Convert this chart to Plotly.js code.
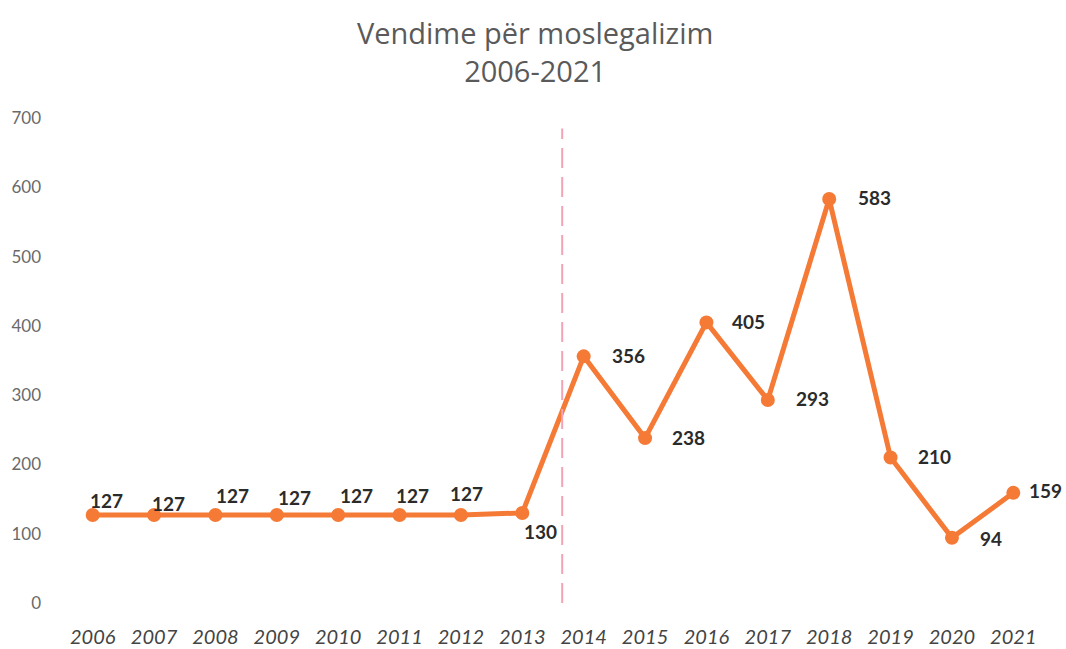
<!DOCTYPE html>
<html>
<head>
<meta charset="utf-8">
<script src="https://cdn.plot.ly/plotly-3.0.1.min.js"></script>
<style>html,body{margin:0;padding:0;background:#fff;}#chart{width:1066px;height:649px;}</style>
</head>
<body>
<div id="chart"></div>
<script>
const years = [2006, 2007, 2008, 2009, 2010, 2011, 2012, 2013, 2014, 2015, 2016, 2017, 2018, 2019, 2020, 2021];
const values = [127, 127, 127, 127, 127, 127, 127, 130, 356, 238, 405, 293, 583, 210, 94, 159];
const yTicks = [0, 100, 200, 300, 400, 500, 600, 700];

// label offsets in pixels (style only)
const labelDx = [14, 14, 17, 18, 18, 13, 6, 18, 45, 43, 42, 45, 45, 44, 39, 32];
const labelDy = [15, 12, 20, 18, 20, 20, 22, -19, 1, 1, 1, 1, 2, 1, -1, 2];
const dividerX = 2013.65;

const lineColor = '#F47A36';

const trace = {
  x: years,
  y: values,
  type: 'scatter',
  mode: 'lines+markers',
  line: {color: lineColor, width: 5},
  marker: {color: lineColor, size: 14},
  cliponaxis: false,
  hoverinfo: 'x+y'
};

const labelFont = {family: 'Lato, "Open Sans", sans-serif', size: 19, color: '#2b2b2b', weight: 'bold'};
const annotations = years.map((yr, i) => ({
  x: yr, y: values[i], xref: 'x', yref: 'y',
  text: String(values[i]),
  showarrow: false,
  xanchor: 'center', yanchor: 'middle',
  xshift: labelDx[i], yshift: labelDy[i],
  font: labelFont
}));

const layout = {
  width: 1066,
  height: 649,
  margin: {l: 62, r: 22, t: 118, b: 46},
  paper_bgcolor: '#ffffff',
  plot_bgcolor: '#ffffff',
  showlegend: false,
  title: {
    text: 'Vendime për moslegalizim<br>2006-2021',
    font: {family: '"Open Sans", Lato, sans-serif', size: 29, color: '#5a5a5a'},
    x: 0.502, xanchor: 'center', xref: 'container',
    y: 0.932, yanchor: 'middle', yref: 'container'
  },
  xaxis: {
    type: 'linear',
    range: [2005.5, 2021.5],
    tickvals: years,
    ticktext: years.map(String),
    showgrid: false, zeroline: false, showline: false,
    ticks: '', ticklabelstandoff: 20,
    tickfont: {family: 'Lato, "Open Sans", sans-serif', size: 20, color: '#444444', style: 'italic'}
  },
  yaxis: {
    range: [0, 700],
    tickvals: yTicks,
    showgrid: false, zeroline: false, showline: false,
    ticks: '', ticklabelstandoff: 20,
    tickfont: {family: 'Lato, "Open Sans", sans-serif', size: 17, color: '#6a6a6a'}
  },
  annotations: annotations,
  shapes: [{
    type: 'line', xref: 'x', yref: 'y',
    x0: dividerX, x1: dividerX, y0: 0, y1: 685,
    line: {color: '#F3A3B5', width: 2, dash: '20px,9px'}
  }]
};

Plotly.newPlot('chart', [trace], layout, {displayModeBar: false, staticPlot: true});
</script>
</body>
</html>
